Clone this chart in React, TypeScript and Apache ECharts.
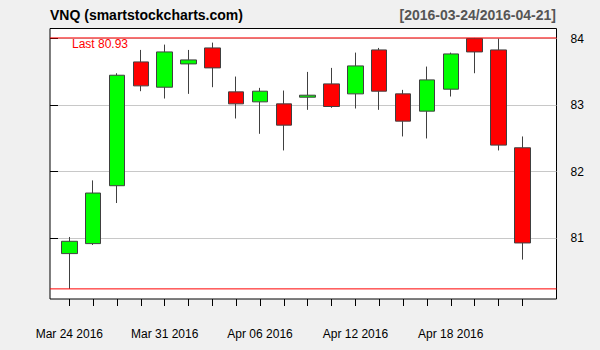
import React, { useEffect, useRef } from "react";
import * as echarts from "echarts";

const dates = [
  "Mar 24 2016", "Mar 28 2016", "Mar 29 2016", "Mar 30 2016", "Mar 31 2016",
  "Apr 01 2016", "Apr 04 2016", "Apr 05 2016", "Apr 06 2016", "Apr 07 2016",
  "Apr 08 2016", "Apr 11 2016", "Apr 12 2016", "Apr 13 2016", "Apr 14 2016",
  "Apr 15 2016", "Apr 18 2016", "Apr 19 2016", "Apr 20 2016", "Apr 21 2016",
];
const opens = [80.77, 80.92, 81.79, 83.65, 83.27, 83.62, 83.86, 83.2, 83.05, 83.02, 83.12, 83.32, 83.17, 83.83, 83.17, 82.91, 83.24, 84.0, 83.83, 82.36];
const closes = [80.955, 81.68, 83.45, 83.29, 83.8, 83.68, 83.56, 83.02, 83.21, 82.7, 83.15, 82.98, 83.59, 83.21, 82.76, 83.38, 83.77, 83.8, 82.4, 80.93];
const lows = [80.24, 80.9, 81.53, 83.21, 83.1, 83.17, 83.27, 82.8, 82.57, 82.32, 82.93, 82.96, 82.95, 82.93, 82.53, 82.5, 83.13, 83.48, 82.32, 80.68];
const highs = [81.02, 81.87, 83.48, 83.83, 83.91, 83.83, 83.94, 83.43, 83.26, 83.22, 83.5, 83.56, 83.79, 83.86, 83.23, 83.58, 83.79, 84.01, 84.0, 82.53];
const yTicks = [81, 82, 83, 84];
const yMin = 80.088;
const yMax = 84.152;
const titleText = "VNQ (smartstockcharts.com)";
const rangeText = "[2016-03-24/2016-04-21]";

export default function App() {
  const ref = useRef<HTMLDivElement>(null);
  useEffect(() => {
    if (!ref.current) return;
    const chart = echarts.init(ref.current, undefined, { renderer: "svg" });
    const hi = Math.max(...highs);
    const lo = Math.min(...lows);
    const last = closes[closes.length - 1];
    const font = '"Liberation Sans", Arial, sans-serif';
    const candleData = dates.map((_, i) => [opens[i], closes[i], lows[i], highs[i]]);
    chart.setOption({
      animation: false,
      backgroundColor: "#f0f0f0",
      textStyle: { fontFamily: font },
      grid: [
        {
          left: 50, top: 28.5, width: 506.5, height: 270.5,
          show: true, backgroundColor: "#ffffff", borderColor: "#000000", borderWidth: 1,
        },
        { left: 57.4, top: 28.5, width: 476.8, height: 270.5, show: false },
      ],
      xAxis: [
        { type: "value", gridIndex: 0, min: 0, max: 1, show: false },
        {
          type: "category", gridIndex: 1, data: dates, boundaryGap: true,
          axisLine: { show: false },
          axisTick: { show: true, alignWithLabel: true, interval: 0, length: 7, lineStyle: { color: "#000", width: 1 } },
          axisLabel: { interval: 3, margin: 29, fontSize: 12, color: "#000", fontFamily: font },
          splitLine: { show: false },
        },
      ],
      yAxis: [
        {
          type: "value", gridIndex: 0, position: "right", min: yMin, max: yMax,
          axisLine: { show: false },
          axisTick: { show: true, length: 8, customValues: yTicks, lineStyle: { color: "#000", width: 1 } },
          axisLabel: { customValues: yTicks, margin: 14, fontSize: 12, color: "#000", fontFamily: font },
          splitLine: { show: true, lineStyle: { color: "#c8c8c8", width: 1 } },
        },
        { type: "value", gridIndex: 1, min: yMin, max: yMax, show: false, splitLine: { show: false } },
      ],
      series: [
        {
          type: "candlestick", xAxisIndex: 1, yAxisIndex: 1, data: candleData, barWidth: 16,
          itemStyle: {
            color: "#00ff00", color0: "#ff0000",
            borderColor: "#404040", borderColor0: "#404040", borderWidth: 1,
          },
        },
        {
          type: "line", xAxisIndex: 0, yAxisIndex: 0, data: [[0, hi], [1, hi]],
          symbol: "none", lineStyle: { color: "#ff0000", width: 1 }, z: 5,
        },
        {
          type: "line", xAxisIndex: 0, yAxisIndex: 0, data: [[0, lo], [1, lo]],
          symbol: "none", lineStyle: { color: "#ff0000", width: 1 }, z: 5,
        },
      ],
      graphic: [
        {
          type: "text", x: 50, y: 15,
          style: { text: titleText, font: `bold 14px ${font}`, fill: "#000", align: "left", verticalAlign: "middle" },
        },
        {
          type: "text", x: 556, y: 15,
          style: { text: rangeText, font: `bold 14px ${font}`, fill: "#555555", align: "right", verticalAlign: "middle" },
        },
        {
          type: "text", x: 72, y: 43.5, z: 10,
          style: { text: `Last ${last.toFixed(2)}`, font: `12px ${font}`, fill: "#ff0000", align: "left", verticalAlign: "middle" },
        },
      ],
    });
    return () => chart.dispose();
  }, []);
  return <div ref={ref} style={{ position: "fixed", left: 0, top: 0, width: 600, height: 350 }} />;
}
